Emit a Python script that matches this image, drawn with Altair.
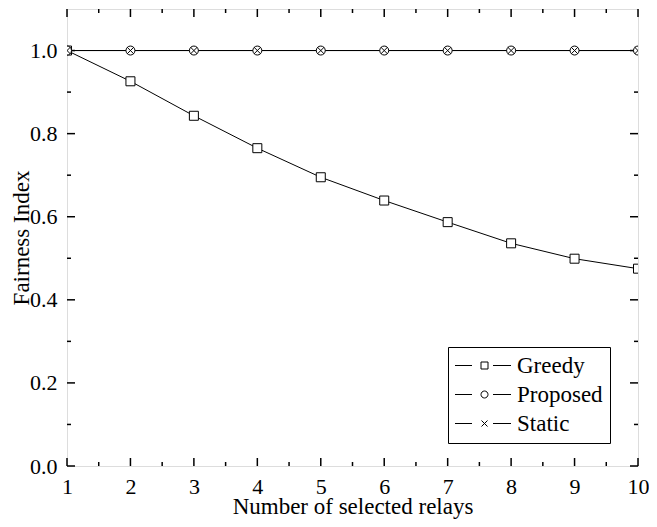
import altair as alt
import pandas as pd

# ---- data ----
relays = [1, 2, 3, 4, 5, 6, 7, 8, 9, 10]
greedy = [1.0, 0.926, 0.843, 0.765, 0.695, 0.639, 0.587, 0.536, 0.499, 0.475]
proposed = [1.0, 1.0, 1.0, 1.0, 1.0, 1.0, 1.0, 1.0, 1.0, 1.0]
static = [1.0, 1.0, 1.0, 1.0, 1.0, 1.0, 1.0, 1.0, 1.0, 1.0]
series_names = ["Greedy", "Proposed", "Static"]

x_major = [1, 2, 3, 4, 5, 6, 7, 8, 9, 10]
x_minor = [1.5, 2.5, 3.5, 4.5, 5.5, 6.5, 7.5, 8.5, 9.5]
y_major = [0.0, 0.2, 0.4, 0.6, 0.8, 1.0]
y_minor = [0.1, 0.3, 0.5, 0.7, 0.9]

# ---- layout / style ----
W, H = 571, 457
PAD = {"left": 59, "top": 1, "right": 11, "bottom": 53}
PLOT_LEFT, PLOT_TOP = 8 + PAD["left"], 8 + PAD["top"]
FONT = "Liberation Serif"
FS_LAB = 22
FS_TIT = 23
MAJ, MIN = 8, 4

rows = []
for name, vals in zip(series_names, [greedy, proposed, static]):
    for xv, yv in zip(relays, vals):
        rows.append({"x": xv, "y": yv, "series": name})
df = pd.DataFrame(rows)

xs = alt.Scale(domain=[1, 10], nice=False, zero=False)
ys = alt.Scale(domain=[0, 1.1], nice=False, zero=False)

x_axis = alt.Axis(values=x_major, format="d", title="Number of selected relays",
                  ticks=False, domain=False, grid=False, labelPadding=10,
                  titleY=47, titleBaseline="alphabetic",
                  labelFont=FONT, titleFont=FONT,
                  labelFontSize=FS_LAB, titleFontSize=FS_TIT, titleFontWeight="normal",
                  labelColor="black", titleColor="black", labelFlush=False)
y_axis = alt.Axis(values=y_major, format=".1f", title="Fairness Index",
                  ticks=False, domain=False, grid=False, labelPadding=10,
                  titleX=-39, titleBaseline="alphabetic",
                  labelFont=FONT, titleFont=FONT,
                  labelFontSize=FS_LAB, titleFontSize=FS_TIT, titleFontWeight="normal",
                  labelColor="black", titleColor="black", labelFlush=False)

X = alt.X("x:Q", scale=xs, axis=x_axis)
Y = alt.Y("y:Q", scale=ys, axis=y_axis)

lines = alt.Chart(df).mark_line(color="black", strokeWidth=1).encode(
    x=X, y=Y, detail="series:N")

cross_path = "M-0.75,-0.75L0.75,0.75M-0.75,0.75L0.75,-0.75"
points = alt.Chart(df).mark_point(filled=True, fill="white", stroke="black",
                                  strokeWidth=1, opacity=1, clip=True).encode(
    x=X, y=Y,
    shape=alt.Shape("series:N", scale=alt.Scale(domain=series_names,
                    range=["square", "circle", cross_path]), legend=None),
    size=alt.Size("series:N", scale=alt.Scale(domain=series_names,
                  range=[81, 80, 80]), legend=None),
)

# legend symbols: line - marker - line
leg_paths = [
    "M-1.15,0L0.55,0M2.65,0L4.45,0M1.45,-0.35L2.15,-0.35L2.15,0.35L1.45,0.35Z",
    "M-1.15,0L0.55,0M2.65,0L4.45,0M2.15,0A0.35,0.35 0 1,1 1.45,0A0.35,0.35 0 1,1 2.15,0",
    "M-1.15,0L0.55,0M2.65,0L4.45,0M1.5,-0.3L2.1,0.3M1.5,0.3L2.1,-0.3",
]
legend_layer = alt.Chart(df).transform_filter("datum.x < 0").mark_point(
    color="black", filled=False, strokeWidth=1, opacity=1).encode(
    x=X, y=Y,
    shape=alt.Shape("series:N", scale=alt.Scale(domain=series_names, range=leg_paths),
                    legend=alt.Legend(title=None, orient="none",
                                      legendX=448 - PLOT_LEFT, legendY=347 - PLOT_TOP,
                                      symbolSize=400, symbolStrokeWidth=1,
                                      symbolStrokeColor="black", symbolFillColor="white",
                                      labelFont=FONT, labelFontSize=FS_TIT, labelColor="black",
                                      labelOffset=39, rowPadding=5, padding=7,
                                      strokeColor="black", fillColor="white",
                                      cornerRadius=0)),
)

def rule_chart(vals, field):
    return alt.Chart(pd.DataFrame({field: vals})).mark_rule(color="black", strokeWidth=1.5)

tick_layers = []
for vals, ln in [(x_major, MAJ), (x_minor, MIN)]:
    tick_layers.append(rule_chart(vals, "x").encode(x=X, y=alt.value(H), y2=alt.value(H - ln)))
    tick_layers.append(rule_chart(vals, "x").encode(x=X, y=alt.value(0), y2=alt.value(ln)))
for vals, ln in [(y_major, MAJ), (y_minor, MIN)]:
    tick_layers.append(rule_chart(vals, "y").encode(y=Y, x=alt.value(0), x2=alt.value(ln)))
    tick_layers.append(rule_chart(vals, "y").encode(y=Y, x=alt.value(W), x2=alt.value(W - ln)))

chart = alt.layer(lines, *tick_layers, points, legend_layer).resolve_scale(
    shape="independent", size="independent"
).properties(
    width=W, height=H,
    padding=PAD,
    autosize=alt.AutoSizeParams(type="none"),
).configure_view(stroke="black", strokeWidth=2).configure(background="white")

chart.save("out.html", embed_options={"renderer": "svg", "actions": False})
